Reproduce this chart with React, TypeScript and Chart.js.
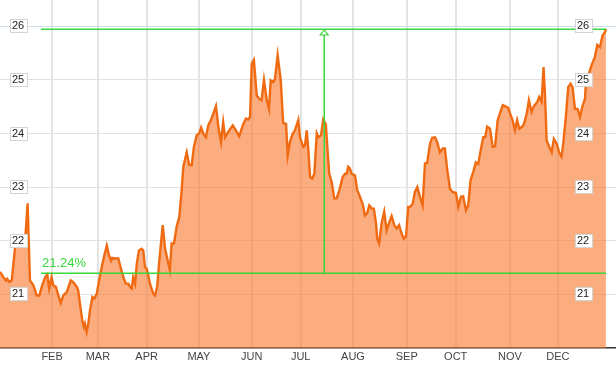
import React, { useEffect, useRef } from "react";
import { Chart, registerables } from "chart.js";

Chart.register(...registerables);

// x = trading-day index, y = price
const days: number[] = [
  0, 1.4, 2.5, 3.0, 3.9, 4.9, 6.3, 8.3, 10.4, 11.5, 12.5, 13.9, 15.3, 16.4, 17.4, 18.8, 19.7, 20.5, 21.5, 22.2,
  23.3, 24.3, 25.3, 26.4, 27.8, 29.5, 30.5, 32.0, 32.6, 33.3, 34.3, 35.0, 35.4, 36.1, 36.8, 37.5, 38.5, 39.3, 40.3, 41.3,
  42.4, 43.5, 44.5, 45.4, 46.3, 46.8, 47.9, 49.3, 50.4, 51.4, 52.4, 53.5, 54.2, 54.9, 55.5, 56.3, 57.0, 57.9, 59.0, 59.7,
  60.4, 61.1, 61.8, 62.5, 63.9, 64.6, 65.5, 66.4, 67.8, 68.8, 69.7, 70.8, 71.5, 72.5, 73.6, 74.7, 75.7, 76.4, 77.8, 78.9,
  79.9, 80.8, 82.0, 83.0, 83.8, 84.7, 85.8, 86.8, 87.9, 88.9, 90.0, 91.0, 92.1, 93.0, 93.8, 95.1, 97.0, 98.3, 99.7, 101.4,
  102.5, 103.5, 104.2, 104.9, 105.8, 107.0, 108.0, 109.0, 110.0, 111.1, 112.1, 112.8, 113.9, 114.6, 115.7, 117.0, 118.0, 119.2, 119.9, 120.8,
  122.0, 122.9, 124.3, 125.0, 126.4, 127.1, 127.8, 128.5, 129.2, 130.1, 131.0, 132.0, 132.6, 133.8, 134.7, 135.8, 136.4, 137.2, 138.2, 139.3,
  140.3, 141.4, 142.8, 143.8, 144.5, 145.1, 145.8, 146.5, 147.9, 148.9, 150.0, 151.1, 152.1, 153.0, 153.9, 154.9, 155.8, 156.7, 157.2, 158.0,
  159.0, 160.1, 161.1, 161.8, 163.2, 164.3, 165.3, 166.3, 167.4, 168.3, 169.2, 170.1, 170.8, 172.0, 172.9, 173.9, 175.0, 176.1, 177.1, 178.0,
  179.2, 180.1, 181.3, 182.2, 183.3, 184.5, 185.4, 186.4, 187.5, 188.6, 190.0, 191.0, 192.1, 193.0, 194.2, 195.1, 196.1, 197.2, 198.3, 199.3,
  200.3, 201.4, 202.2, 203.0, 204.2, 205.3, 206.3, 207.4, 208.3, 209.5, 210.4, 211.8, 212.8, 213.6, 214.6, 215.5, 216.4, 217.4, 218.3, 219.5,
  220.4, 221.5, 222.5, 223.9, 224.7, 225.7, 226.5, 227.1, 227.8, 228.9, 229.9, 230.8, 232.0, 233.0, 234.0, 234.7, 235.8, 236.8, 237.8, 238.6,
  239.6, 240.7, 241.7, 242.6, 243.8, 244.2, 245.1, 246.5, 247.9, 248.9, 250.0, 251.1, 252.1, 252.5,
];

const prices: number[] = [
  21.42, 21.32, 21.26, 21.29, 21.23, 21.26, 21.88, 21.9, 21.95, 22.7, 21.26, 21.17, 20.98, 20.98, 21.14, 21.32, 21.37, 21.11, 21.32, 21.17,
  21.14, 20.98, 20.84, 20.98, 21.04, 21.26, 21.23, 21.14, 21.07, 20.83, 20.51, 20.39, 20.45, 20.3, 20.45, 20.7, 20.95, 20.92, 21.01, 21.26,
  21.51, 21.73, 21.91, 21.73, 21.63, 21.68, 21.67, 21.67, 21.48, 21.32, 21.2, 21.2, 21.14, 21.11, 21.32, 21.2, 21.57, 21.82, 21.85, 21.82,
  21.51, 21.48, 21.35, 21.2, 21.01, 20.98, 21.14, 21.63, 22.29, 21.85, 21.67, 21.45, 21.95, 21.95, 22.26, 22.44, 22.94, 23.38, 23.65, 23.41,
  23.41, 23.75, 23.97, 24.0, 24.11, 24.0, 23.93, 24.15, 24.25, 24.37, 24.51, 24.12, 23.84, 24.21, 23.93, 24.03, 24.15, 24.06, 23.95, 24.18,
  24.28, 24.26, 24.31, 25.3, 25.37, 24.71, 24.65, 24.62, 25.0, 24.65, 24.46, 24.99, 24.96, 25.02, 25.46, 24.99, 24.2, 24.18, 23.59, 23.84,
  24.0, 24.06, 24.25, 23.93, 23.75, 23.78, 24.06, 23.69, 23.19, 23.16, 23.25, 24.0, 23.93, 23.97, 24.26, 24.17, 23.75, 23.25, 23.1, 22.79,
  22.79, 22.94, 23.19, 23.25, 23.25, 23.38, 23.35, 23.25, 23.22, 22.94, 22.82, 22.69, 22.47, 22.51, 22.66, 22.6, 22.6, 22.32, 22.04, 21.95,
  22.32, 22.54, 22.19, 22.29, 22.46, 22.29, 22.23, 22.29, 22.13, 22.04, 22.08, 22.63, 22.63, 22.69, 22.91, 23.0, 22.82, 22.66, 23.44, 23.45,
  23.81, 23.92, 23.93, 23.84, 23.65, 23.72, 23.72, 23.31, 22.97, 22.91, 22.89, 22.63, 22.82, 22.83, 22.57, 22.66, 23.13, 23.28, 23.46, 23.43,
  23.69, 23.93, 23.93, 24.13, 24.09, 23.75, 23.76, 24.25, 24.37, 24.53, 24.51, 24.48, 24.34, 24.25, 24.06, 24.25, 24.09, 24.12, 24.17, 24.37,
  24.62, 24.4, 24.51, 24.59, 24.68, 24.59, 25.24, 24.74, 23.87, 23.75, 23.65, 23.9, 23.81, 23.65, 23.57, 23.81, 24.31, 24.87, 24.93, 24.86,
  24.46, 24.46, 24.31, 24.49, 24.65, 24.99, 25.07, 25.27, 25.43, 25.65, 25.61, 25.83, 25.89, 25.95,
];

const monthLabels: string[] = ["FEB", "MAR", "APR", "MAY", "JUN", "JUL", "AUG", "SEP", "OCT", "NOV", "DEC"];
const monthStartDays: number[] = [21.7, 40.8, 61.1, 82.9, 104.9, 125.3, 147.1, 169.5, 189.9, 212.5, 232.5];
const priceTicks: number[] = [21, 22, 23, 24, 25, 26];

const X_MIN = 0;
const X_MAX = 256.7;
const Y_MIN = 20;
const Y_MAX = 26.49;

// range annotation
const rangeStartDay = 17.1;
const rangePeakDay = 135.1;
const rangeEndDay = 252.5;
const rangeHigh = 25.95;
const rangeLow = 21.4;
const rangeLabel = "21.24%";

const GREEN = "#3ad63a";
const FONT = "'Liberation Sans', Arial, sans-serif";

const overlayPlugin = {
  id: "overlay",
  afterDatasetsDraw(chart: any) {
    const { ctx, scales } = chart;
    const xs = scales.x;
    const ys = scales.y;
    ctx.save();
    // annotation
    const x0 = Math.round(xs.getPixelForValue(rangeStartDay));
    const x1 = Math.round(xs.getPixelForValue(rangeEndDay));
    const xv = Math.round(xs.getPixelForValue(rangePeakDay));
    const yH = Math.round(ys.getPixelForValue(rangeHigh));
    const yL = Math.round(ys.getPixelForValue(rangeLow));
    ctx.fillStyle = GREEN;
    ctx.globalAlpha = 1;
    ctx.fillRect(x0, yH - 0.5, x1 - x0, 1.5);
    ctx.fillRect(x0, yL - 0.5, x1 - x0, 1.5);
    ctx.fillRect(xv - 0.5, yH + 5, 1.5, yL - yH - 5);
    ctx.strokeStyle = GREEN;
    ctx.lineWidth = 1.2;
    ctx.beginPath();
    ctx.moveTo(xv + 0.25, yH + 1);
    ctx.lineTo(xv - 3.75, yH + 6);
    ctx.lineTo(xv + 4.25, yH + 6);
    ctx.closePath();
    ctx.fillStyle = "#ffffff";
    ctx.fill();
    ctx.stroke();
    ctx.fillStyle = GREEN;
    ctx.font = `13px ${FONT}`;
    ctx.textAlign = "left";
    ctx.textBaseline = "alphabetic";
    ctx.fillText(rangeLabel, x0 + 1, yL - 6);

    // price label boxes on both sides
    ctx.font = `11px ${FONT}`;
    ctx.textAlign = "center";
    ctx.textBaseline = "middle";
    const leftX = chart.chartArea.left + 18;
    const rightX = chart.chartArea.left + 583;
    for (const v of priceTicks) {
      const py = Math.round(ys.getPixelForValue(v));
      const text = String(v);
      const w = Math.ceil(ctx.measureText(text).width) + 4;
      const h = 13;
      for (const cx of [leftX, rightX]) {
        const bx = Math.round(cx - w / 2) + 0.5;
        const by = py - 7 + 0.5;
        ctx.fillStyle = "#ffffff";
        ctx.fillRect(bx, by, w, h);
        ctx.strokeStyle = "#d4d4d4";
        ctx.lineWidth = 1;
        ctx.strokeRect(bx, by, w, h);
        ctx.fillStyle = "#222222";
        ctx.fillText(text, cx, py);
      }
    }
    ctx.restore();
  },
};

export default function App() {
  const ref = useRef<HTMLCanvasElement | null>(null);
  useEffect(() => {
    if (!ref.current) return;
    const points = days.map((d, i) => ({ x: d, y: prices[i] }));
    const chart = new Chart(ref.current, {
      type: "line",
      data: {
        datasets: [
          {
            data: points,
            borderColor: "#f06a12",
            borderWidth: 2.4,
            backgroundColor: "rgba(250,122,48,0.62)",
            fill: "start",
            pointRadius: 0,
            tension: 0,
          },
        ],
      },
      options: {
        animation: false,
        responsive: false,
        maintainAspectRatio: false,
        devicePixelRatio: 1,
        layout: { padding: { left: 0, right: 0, top: 0, bottom: 0 } },
        plugins: { legend: { display: false }, tooltip: { enabled: false } },
        scales: {
          x: {
            type: "linear",
            min: X_MIN,
            max: X_MAX,
            afterBuildTicks(scale: any) {
              scale.ticks = monthStartDays.map((v) => ({ value: v }));
            },
            ticks: {
              autoSkip: false,
              maxRotation: 0,
              padding: 3,
              color: "#444444",
              font: { size: 11, family: FONT, lineHeight: 1.0 },
              callback(value: any) {
                const i = monthStartDays.indexOf(Number(value));
                return i >= 0 ? monthLabels[i] : "";
              },
            },
            grid: { color: "#e4e4e4", lineWidth: 2, drawTicks: false },
            border: { display: true, color: "#333333", width: 1.5 },
          },
          y: {
            type: "linear",
            min: Y_MIN,
            max: Y_MAX,
            afterBuildTicks(scale: any) {
              scale.ticks = priceTicks.map((v) => ({ value: v }));
            },
            ticks: { display: false },
            grid: {
              color: (c: any) => (c.tick && c.tick.value === 26 ? "#cddde8" : "#e2e2e2"),
              lineWidth: 1,
              drawTicks: false,
            },
            border: { display: false },
          },
        },
      },
      plugins: [overlayPlugin],
    });
    return () => chart.destroy();
  }, []);
  return (
    <div style={{ position: "fixed", left: 0, top: 0, width: 616, height: 365, background: "#ffffff" }}>
      <canvas ref={ref} width={616} height={365} style={{ display: "block", width: 616, height: 365 }} />
    </div>
  );
}
